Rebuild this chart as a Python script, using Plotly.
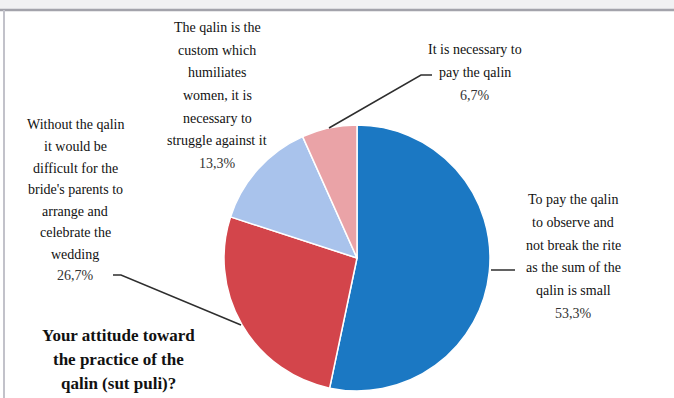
import plotly.graph_objects as go

W, H = 674, 398

# Survey answers and shares (%)
answers = [
    "To pay the qalin\nto observe and\nnot break the rite\nas the sum of the\nqalin is small",
    "Without the qalin\nit would be\ndifficult for the\nbride's parents to\narrange and\ncelebrate the\nwedding",
    "The qalin is the\ncustom which\nhumiliates\nwomen, it is\nnecessary to\nstruggle against it",
    "It is necessary to\npay the qalin",
]
shares = [53.3, 26.7, 13.3, 6.7]
slice_colors = ["#1b78c3", "#d3454b", "#a9c3ec", "#eaa3a7"]
title_lines = ["Your attitude toward", "the practice of the", "qalin (sut puli)?"]

# label placement in pixels: centre x, first line y, line step
label_pos = [(573, 200, 22.6), (75, 125, 21.5), (217, 28, 22.5), (475, 50, 23)]
# leader lines in pixels
leaders = [
    [(515, 270), (491, 270)],
    [(113, 275), (121, 275), (241, 325)],
    None,
    [(432, 75), (421, 75), (329, 128)],
]


def px(x):
    return x / W


def py(y):
    return 1 - y / H


FONT = "Liberation Serif, DejaVu Serif, serif"

fig = go.Figure(
    go.Pie(
        labels=[a.replace("\n", " ") for a in answers],
        values=shares,
        marker=dict(colors=slice_colors, line=dict(color="white", width=1.5)),
        sort=False,
        direction="clockwise",
        rotation=0,
        textinfo="none",
        hoverinfo="label+percent",
        showlegend=False,
        domain=dict(x=[px(224), px(490)], y=[py(391), py(125)]),
    )
)

annotations = []
for ans, val, (cx, y0, step) in zip(answers, shares, label_pos):
    lines = ans.split("\n")
    for i, ln in enumerate(lines):
        annotations.append(dict(
            x=px(cx), y=py(y0 + i * step), xref="paper", yref="paper",
            text=ln, showarrow=False, xanchor="center", yanchor="middle",
            font=dict(family=FONT, size=14, color="#111111"),
        ))
    pct = f"{val:.1f}".replace(".", ",") + "%"
    annotations.append(dict(
        x=px(cx), y=py(y0 + len(lines) * step), xref="paper", yref="paper",
        text=pct, showarrow=False, xanchor="center", yanchor="middle",
        font=dict(family=FONT, size=14, color="#333333"),
    ))

for i, ln in enumerate(title_lines):
    annotations.append(dict(
        x=px(118), y=py(335 + i * 24), xref="paper", yref="paper",
        text=f"<b>{ln}</b>", showarrow=False, xanchor="center", yanchor="middle",
        font=dict(family=FONT, size=17, color="#111111"),
    ))

shapes = []
for pts in leaders:
    if not pts:
        continue
    path = "M " + " L ".join(f"{px(x)},{py(y)}" for x, y in pts)
    shapes.append(dict(type="path", path=path, xref="paper", yref="paper",
                       line=dict(color="#2e2e2e", width=1.5)))

# scanned frame: grey strip on top and thin left border
shapes.append(dict(type="rect", xref="paper", yref="paper",
                   x0=0, x1=1, y0=py(9), y1=1,
                   fillcolor="#f1f1f3", line=dict(width=0), layer="below"))
shapes.append(dict(type="line", xref="paper", yref="paper",
                   x0=0, x1=1, y0=py(10), y1=py(10),
                   line=dict(color="#a3a3ab", width=2.5)))
shapes.append(dict(type="line", xref="paper", yref="paper",
                   x0=px(4), x1=px(4), y0=0, y1=py(10),
                   line=dict(color="#c2c2ca", width=2)))

fig.update_layout(
    width=W, height=H,
    margin=dict(l=0, r=0, t=0, b=0),
    paper_bgcolor="white",
    plot_bgcolor="white",
    annotations=annotations,
    shapes=shapes,
)

fig.write_html(
    "out.html",
    config={"displayModeBar": False},
    post_script="document.body.style.margin='0';",
)
